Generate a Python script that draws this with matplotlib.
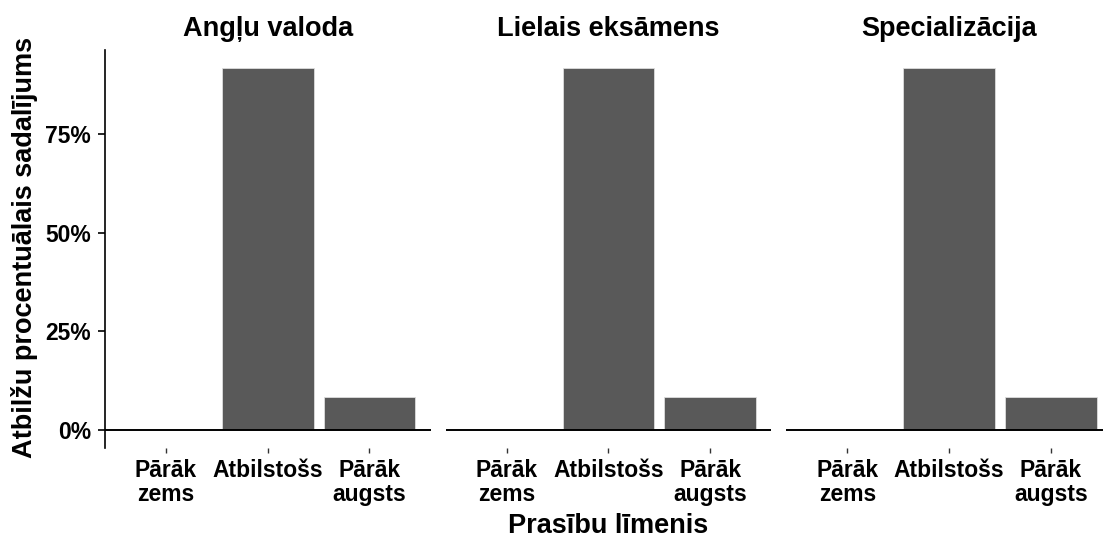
import matplotlib
matplotlib.use("Agg")
import matplotlib.pyplot as plt
import numpy as np

plt.rcParams['font.family'] = ['Liberation Sans', 'DejaVu Sans']
plt.rcParams['font.weight'] = 'bold'

facets = ["Angļu valoda", "Lielais eksāmens", "Specializācija"]
categories = ["Pārāk\nzems", "Atbilstošs", "Pārāk\naugsts"]
values = {
    "Angļu valoda": [0.0, 91.67, 8.33],
    "Lielais eksāmens": [0.0, 91.67, 8.33],
    "Specializācija": [0.0, 91.67, 8.33],
}
yticks = [0, 25, 50, 75]
ytick_labels = ["0%", "25%", "50%", "75%"]
xlabel = "Prasību līmenis"
ylabel = "Atbilžu procentuālais sadalījums"

W, H = 1103, 538
fig = plt.figure(figsize=(W / 100, H / 100), dpi=100)

panel_left_px = [105.0, 445.6, 786.3]
panel_w_px = 325.5
panel_top_px = 50.4
panel_bot_px = 448.0

ymax_all = max(max(v) for v in values.values())
ylim = (-0.05 * ymax_all, 1.05 * ymax_all)

tick_fs = 16.5
title_fs = 19.5
bar_color = "#595959"

for i, name in enumerate(facets):
    l = panel_left_px[i] / W
    b = (H - panel_bot_px) / H
    w = panel_w_px / W
    h = (panel_bot_px - panel_top_px) / H
    ax = fig.add_axes([l, b, w, h])
    x = np.arange(len(categories))
    ax.bar(x, values[name], width=0.9, color=bar_color, edgecolor="#dddddd",
           linewidth=0.6, zorder=2)
    ax.axhline(0, color="black", linewidth=1.4, zorder=3)
    ax.set_xlim(-0.6, len(categories) - 0.4)
    ax.set_ylim(*ylim)
    for s in ["top", "right", "bottom"]:
        ax.spines[s].set_visible(False)
    ax.set_xticks(x)
    ax.set_xticklabels(categories, fontsize=tick_fs, fontweight="bold",
                       linespacing=1.1)
    ax.tick_params(axis="x", length=3.6, width=1.0, color="#333333", pad=4,
                   labelcolor="black")
    if i == 0:
        ax.spines["left"].set_linewidth(1.2)
        ax.spines["left"].set_color("black")
        ax.set_yticks(yticks)
        ax.set_yticklabels(ytick_labels, fontsize=tick_fs, fontweight="bold")
        ax.tick_params(axis="y", length=5, width=1.2, color="black", pad=5)
    else:
        ax.spines["left"].set_visible(False)
        ax.set_yticks([])
    ax.set_title(name, fontsize=title_fs, fontweight="bold", pad=10.5)
    ax.patch.set_alpha(0)

fig.text(608.5 / W, (H - 533) / H, xlabel, ha="center", va="baseline",
         fontsize=title_fs, fontweight="bold")
fig.text(25 / W, (H - 247) / H, ylabel, ha="center", va="center",
         rotation=90, fontsize=title_fs, fontweight="bold")

fig.savefig("out.png", dpi=100, facecolor="white")
